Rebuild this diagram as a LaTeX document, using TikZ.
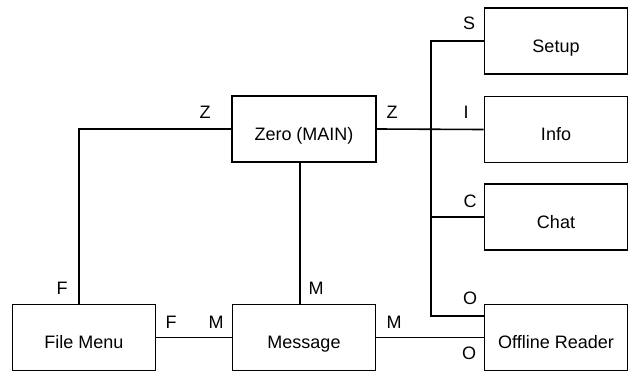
\documentclass[tikz,border=0pt]{standalone}
\usepackage{fontspec}
\setmainfont{Liberation Sans}
\begin{document}
\begin{tikzpicture}[x=1pt,y=-1pt,
  every node/.style={font=\fontsize{18}{21}\selectfont},
  box/.style={draw, line width=1.6pt, minimum width=143pt, minimum height=66pt,
              inner sep=0pt, text height=22pt, text depth=0pt},
  lbl/.style={inner sep=0pt, anchor=center},
  conn/.style={line width=1.6pt}]
\useasboundingbox (0,0) rectangle (628,372);
% boxes
\node[box] (setup) at (556,41) {Setup};
\node[box] (info) at (556,129.5) {Info};
\node[box] (chat) at (556,217) {Chat};
\node[box] (or) at (556,337.5) {Offline Reader};
\node[box, minimum width=144pt] (zero) at (304,129) {Zero (MAIN)};
\node[box] (msg) at (304,337.5) {Message};
\node[box] (fm) at (84,337.5) {File Menu};
% trunk coordinates
\coordinate (ttop) at (431,41);
\coordinate (tbot) at (431,316);
% connectors
\draw[conn] (zero.west) -| ([xshift=-5pt]fm.north);
\draw[conn] ([xshift=-4pt]zero.south) -- ([xshift=-4pt]zero.south |- msg.north);
\draw[conn] (fm.east) -- (msg.west);
\draw[conn] (msg.east) -- (or.west);
\draw[conn] (zero.east) -- (info.west);
\draw[conn] (setup.west) -- (ttop) -- (tbot) -- (or.west |- tbot);
\draw[conn] (chat.west) -- (chat.west -| ttop);
% labels
\node[lbl] (lS) at (469,23.5) {S};
\node[lbl] (lZ2) at (392,112) {Z};
\node[lbl] (lI) at (466,112) {I};
\node[lbl] (lC) at (470,201) {C};
\node[lbl] (lO1) at (470,298) {O};
\node[lbl] (lM3) at (394,322) {M};
\node[lbl] (lO2) at (469,353) {O};
\node[lbl] (lZ1) at (205,112) {Z};
\node[lbl] (lF1) at (62,288) {F};
\node[lbl] (lM1) at (316,288) {M};
\node[lbl] (lF2) at (171,322) {F};
\node[lbl] (lM2) at (216,322) {M};
\end{tikzpicture}
\end{document}
